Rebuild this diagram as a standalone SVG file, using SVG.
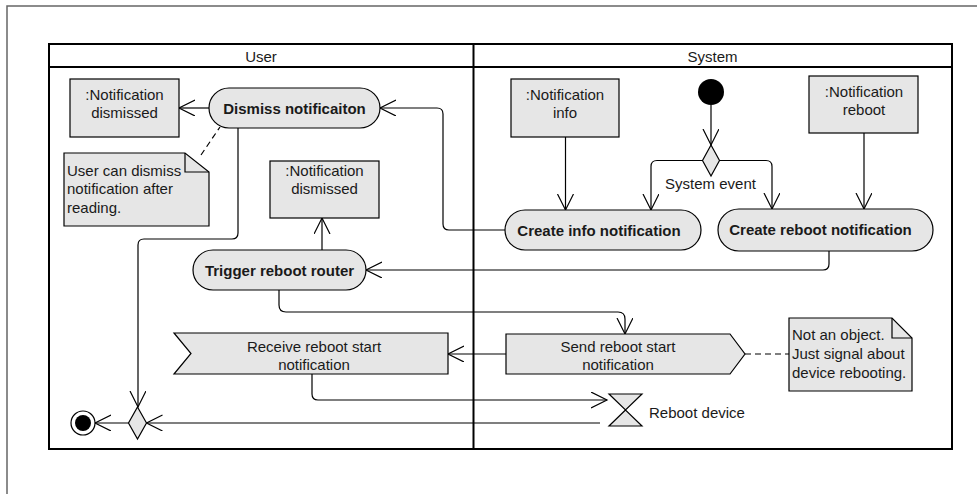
<svg xmlns="http://www.w3.org/2000/svg" width="977" height="494" viewBox="0 0 977 494">
<defs>
<marker id="arr" markerUnits="userSpaceOnUse" markerWidth="20" markerHeight="20" refX="16" refY="8" orient="auto">
<path d="M0,0 L16,8 L0,16" fill="none" stroke="#000" stroke-width="1.2"/>
</marker>
<style>
text{font-family:"Liberation Sans",Arial,sans-serif;font-size:15px;fill:#1a1a1a}
.b{font-weight:bold}
.c{text-anchor:middle}
.shape{fill:#e6e6e6;stroke:#000;stroke-width:1.2}
.conn{fill:none;stroke:#000;stroke-width:1.2}
.dash{fill:none;stroke:#000;stroke-width:1.2;stroke-dasharray:6,4}
.lane{fill:none;stroke:#000;stroke-width:2}
</style>
</defs>
<rect width="977" height="494" fill="#fff"/>
<path d="M977,6 H7 V494" fill="none" stroke="#666" stroke-width="1.5"/>

<g id="swimlanes">
<rect class="lane" x="49" y="44" width="903" height="405"/>
<line class="lane" x1="49" y1="67" x2="952" y2="67"/>
<line class="lane" x1="473.5" y1="44" x2="473.5" y2="449"/>
<text class="c" x="261" y="61.5">User</text>
<text class="c" x="712.5" y="61.5">System</text>
</g>

<g id="connectors">
<line class="conn" x1="209" y1="108" x2="179" y2="108" marker-end="url(#arr)"/>
<line class="dash" x1="201" y1="155" x2="220" y2="127"/>
<path class="conn" d="M238,128 V233 Q238,239 232,239 H144 Q138,239 138,245 V407" marker-end="url(#arr)"/>
<line class="conn" x1="128.5" y1="423" x2="95" y2="423" marker-end="url(#arr)"/>
<line class="conn" x1="322" y1="250" x2="322" y2="218" marker-end="url(#arr)"/>
<path class="conn" d="M829,251 V264 Q829,270 823,270 H366" marker-end="url(#arr)"/>
<path class="conn" d="M279,290 V305 Q279,312 286,312 H618 Q625,312 625,319 V334" marker-end="url(#arr)"/>
<path class="conn" d="M505,230 H449 Q443,230 443,224 V114 Q443,108 437,108 H380" marker-end="url(#arr)"/>
<line class="conn" x1="565.5" y1="137" x2="565.5" y2="210" marker-end="url(#arr)"/>
<line class="conn" x1="864" y1="133" x2="864" y2="209" marker-end="url(#arr)"/>
<line class="conn" x1="711" y1="105" x2="711" y2="145" marker-end="url(#arr)"/>
<path class="conn" d="M702.5,160.5 H657 Q651,160.5 651,166.5 V210" marker-end="url(#arr)"/>
<path class="conn" d="M719.5,160.5 H766 Q772,160.5 772,166.5 V209" marker-end="url(#arr)"/>
<line class="conn" x1="506" y1="354" x2="448" y2="354" marker-end="url(#arr)"/>
<path class="conn" d="M312,374 V394 Q312,400 318,400 H607" marker-end="url(#arr)"/>
<line class="conn" x1="600" y1="423" x2="146.5" y2="423" marker-end="url(#arr)"/>
<line class="dash" x1="745" y1="354" x2="789" y2="354"/>
<text class="c" x="710.5" y="189">System event</text>
</g>

<g id="obj-dismissed-1">
<rect class="shape" x="70" y="79" width="109" height="58"/>
<text class="c" x="124.5" y="99.5">:Notification</text>
<text class="c" x="124.5" y="117.5">dismissed</text>
</g>

<g id="act-dismiss">
<rect class="shape" x="209" y="88" width="171" height="40" rx="20"/>
<text class="c b" x="294.5" y="113.5">Dismiss notificaiton</text>
</g>

<g id="note-dismiss">
<path class="shape" d="M64,153 H185 L209,172 V226 H64 Z"/>
<path class="conn" d="M185,153 V172 H209"/>
<text x="67" y="175.5">User can dismiss</text>
<text x="67" y="194">notification after</text>
<text x="67" y="213">reading.</text>
</g>

<g id="obj-dismissed-2">
<rect class="shape" x="270" y="161" width="109" height="57"/>
<text class="c" x="324.5" y="175.5">:Notification</text>
<text class="c" x="324.5" y="194">dismissed</text>
</g>

<g id="act-trigger">
<rect class="shape" x="193" y="250" width="173" height="40" rx="20"/>
<text class="c b" x="279.5" y="275.5">Trigger reboot router</text>
</g>

<g id="obj-info">
<rect class="shape" x="511" y="79" width="108" height="58"/>
<text class="c" x="565" y="100">:Notification</text>
<text class="c" x="565" y="117.5">info</text>
</g>

<g id="obj-reboot">
<rect class="shape" x="809" y="76" width="109" height="57"/>
<text class="c" x="864" y="96.5">:Notification</text>
<text class="c" x="864" y="115">reboot</text>
</g>

<g id="initial">
<circle cx="711" cy="92" r="13" fill="#000"/>
</g>

<g id="decision-system">
<polygon class="shape" points="711,145 719.5,160.5 711,176 702.5,160.5"/>
</g>

<g id="act-create-info">
<rect class="shape" x="505" y="210" width="196" height="40" rx="20"/>
<text class="c b" x="599" y="236">Create info notification</text>
</g>

<g id="act-create-reboot">
<rect class="shape" x="718" y="209" width="215" height="42" rx="21"/>
<text class="c b" x="820.5" y="234.5">Create reboot notification</text>
</g>

<g id="send-signal">
<polygon class="shape" points="506,334 730,334 745,354 730,374 506,374"/>
<text class="c" x="618" y="351.5">Send reboot start</text>
<text class="c" x="618" y="369.5">notification</text>
</g>

<g id="receive-signal">
<polygon class="shape" points="174,333 448,333 448,374 174,374 191,353.5"/>
<text class="c" x="314" y="351.5">Receive reboot start</text>
<text class="c" x="314" y="369.5">notification</text>
</g>

<g id="note-signal">
<path class="shape" d="M789,318 H892 L912,338 V391 H789 Z"/>
<path class="conn" d="M892,318 V338 H912"/>
<text x="792" y="339.5">Not an object.</text>
<text x="792" y="358.5">Just signal about</text>
<text x="792" y="377.5">device rebooting.</text>
</g>

<g id="reboot-device">
<polygon class="shape" points="609,394 642,394 625.5,410"/>
<polygon class="shape" points="625.5,410 609,426 642,426"/>
<text x="649" y="417.5">Reboot device</text>
</g>

<g id="merge">
<polygon class="shape" points="137.5,407 146.5,423 137.5,439 128.5,423"/>
</g>

<g id="final">
<circle cx="83" cy="423" r="12" fill="#fff" stroke="#000" stroke-width="1.2"/>
<circle cx="83" cy="423" r="8" fill="#000"/>
</g>
</svg>
